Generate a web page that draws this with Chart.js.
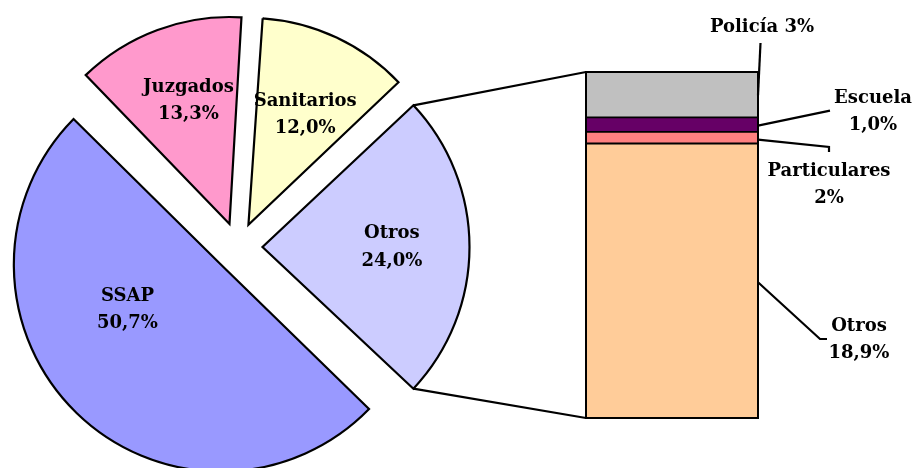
<!DOCTYPE html>
<html><head><meta charset="utf-8">
<script src="https://cdn.jsdelivr.net/npm/chart.js@4"></script>
<style>html,body{margin:0;padding:0;background:#fff;overflow:hidden;width:914px;height:468px}canvas{position:absolute;left:0;top:0}</style>
</head><body>
<canvas id="pie" width="914" height="468"></canvas>
<canvas id="bar" width="914" height="468"></canvas>
<script>
// ---- data ----
const pieLabels = ['Otros', 'SSAP', 'Juzgados', 'Sanitarios'];
const pieValues = [24.0, 50.7, 13.3, 12.0];
const pieValueText = ['24,0%', '50,7%', '13,3%', '12,0%'];
const barLabels = ['Otros', 'Particulares', 'Escuela', 'Policía'];
const barValues = [19.0, 0.8, 1.0, 3.2];
const barLabelText = [['Otros', '18,9%'], ['Particulares', '2%'], ['Escuela', '1,0%'], ['Policía 3%']];

// ---- style ----
const pieColors = ['#CCCCFF', '#9999FF', '#FF99CC', '#FFFFCC'];
const barColors = ['#FFCC99', '#FF8080', '#660066', '#C0C0C0'];
const FONT = 'bold 18px "DejaVu Serif"';
const LINE_H = 27.5;
const R = 207, OFF = 24.5;
// label placement inside the pie: [fraction of radius, angle shift in degrees]
const pieLabelPlace = [[0.625, 0], [0.50, 20], [0.63, 2], [0.60, 2]];
// leader lines for the bar labels (end points) and label block centres
const leaderPaths = [
  [[820, 339], [827, 339]],
  [[829, 147], [829, 152]],
  [[830, 110.7]],
  [[760.5, 43]]
];
const barLabelPos = [[859, 340], [829, 185], [873, 112], [762, 27]];

function drawLines(ctx, lines, cx, cy) {
  const n = lines.length;
  lines.forEach((t, k) => ctx.fillText(t, cx, cy + (k - (n - 1) / 2) * LINE_H));
}

const pieFix = {
  id: 'pieFix',
  afterDatasetUpdate(chart, args) {
    args.meta.data.forEach(a => {
      const fix = 1 - Math.sin(Math.min(Math.PI, a.circumference));
      a.outerRadius = R - OFF * fix;
    });
  },
  afterDraw(chart) {
    const ctx = chart.ctx;
    ctx.save();
    ctx.font = FONT; ctx.fillStyle = '#000'; ctx.textAlign = 'center'; ctx.textBaseline = 'middle';
    chart.getDatasetMeta(0).data.forEach((a, i) => {
      const mid = (a.startAngle + a.endAngle) / 2;
      const ax = a.x + Math.cos(mid) * OFF, ay = a.y + Math.sin(mid) * OFF;
      const [f, d] = pieLabelPlace[i];
      const ang = mid + d * Math.PI / 180;
      drawLines(ctx, [pieLabels[i], pieValueText[i]], ax + Math.cos(ang) * R * f, ay + Math.sin(ang) * R * f + 0.5);
    });
    ctx.restore();
  }
};

const pieChart = new Chart(document.getElementById('pie'), {
  type: 'pie',
  data: {
    labels: pieLabels,
    datasets: [{
      data: pieValues,
      backgroundColor: pieColors,
      borderColor: '#000',
      borderWidth: 2.2,
      borderJoinStyle: 'miter',
      offset: OFF * 4,
      clip: false
    }]
  },
  options: {
    responsive: false, animation: false, events: [],
    radius: R,
    rotation: 90 - pieValues[0] / pieValues.reduce((s, v) => s + v, 0) * 180,
    layout: { padding: { left: 0, right: 438, top: 26, bottom: 0 } },
    plugins: { legend: { display: false }, tooltip: { enabled: false } }
  },
  plugins: [pieFix]
});

const connectors = {
  id: 'connectors',
  afterDraw(chart) {
    const ctx = chart.ctx;
    const n = barValues.length;
    const bottom = chart.getDatasetMeta(0).data[0];
    const top = chart.getDatasetMeta(n - 1).data[0];
    const left = bottom.x - bottom.width / 2 + 1;
    const right = bottom.x + bottom.width / 2 - 1;
    const topY = top.y + 1, botY = bottom.base - 1;
    const a = pieChart.getDatasetMeta(0).data[0];
    const mid = (a.startAngle + a.endAngle) / 2;
    const ax = a.x + Math.cos(mid) * OFF, ay = a.y + Math.sin(mid) * OFF;
    ctx.save();
    ctx.strokeStyle = '#000'; ctx.lineWidth = 2.2; ctx.lineJoin = 'miter';
    ctx.beginPath();
    ctx.moveTo(ax + R * Math.cos(a.startAngle), ay + R * Math.sin(a.startAngle));
    ctx.lineTo(left, topY);
    ctx.moveTo(ax + R * Math.cos(a.endAngle), ay + R * Math.sin(a.endAngle));
    ctx.lineTo(left, botY);
    ctx.stroke();
    // leader lines
    for (let i = 0; i < n; i++) {
      const b = chart.getDatasetMeta(i).data[0];
      const sy = (b.y + b.base) / 2 + (i === 1 ? 2 : 1);
      ctx.beginPath();
      ctx.moveTo(right, sy);
      leaderPaths[i].forEach(p => ctx.lineTo(p[0], p[1]));
      ctx.stroke();
    }
    ctx.font = FONT; ctx.fillStyle = '#000'; ctx.textAlign = 'center'; ctx.textBaseline = 'middle';
    for (let i = 0; i < n; i++) drawLines(ctx, barLabelText[i], barLabelPos[i][0], barLabelPos[i][1]);
    ctx.restore();
  }
};

const barChart = new Chart(document.getElementById('bar'), {
  type: 'bar',
  data: {
    labels: [''],
    datasets: barLabels.map((l, i) => ({
      label: l,
      data: [barValues[i]],
      backgroundColor: barColors[i],
      borderColor: '#000',
      borderWidth: { left: 2.4, right: 2.4, top: i === barLabels.length - 1 ? 2.4 : 1.3, bottom: i === 0 ? 2.4 : 1.3 },
      borderSkipped: false,
      inflateAmount: 0.4,
      barPercentage: 1,
      categoryPercentage: 1
    }))
  },
  options: {
    responsive: false, animation: false, events: [],
    layout: { padding: { left: 585, right: 155, top: 71, bottom: 49 } },
    scales: {
      x: { display: false, stacked: true },
      y: { display: false, stacked: true, min: 0, max: barValues.reduce((s, v) => s + v, 0) }
    },
    plugins: { legend: { display: false }, tooltip: { enabled: false } }
  },
  plugins: [connectors]
});
</script>
</body></html>
